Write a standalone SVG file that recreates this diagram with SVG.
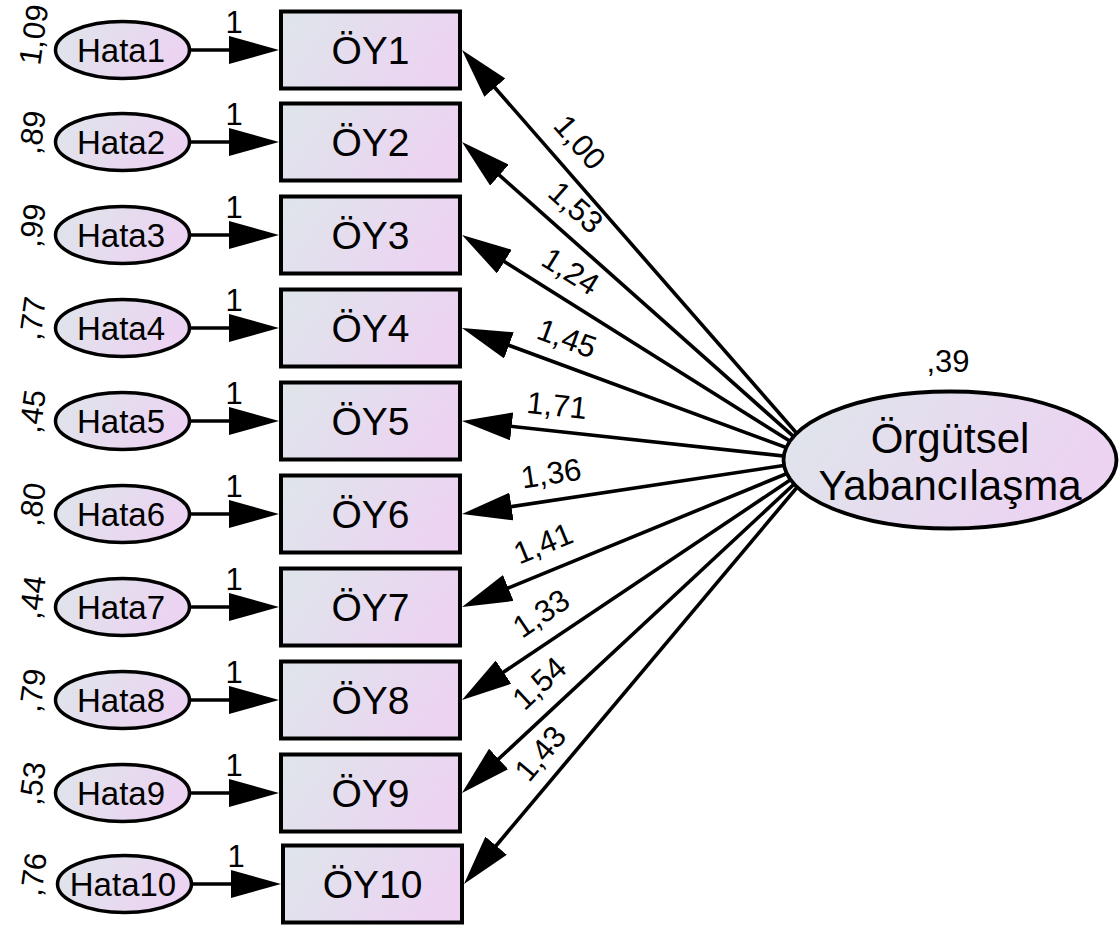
<svg xmlns="http://www.w3.org/2000/svg" width="1120" height="926" viewBox="0 0 1120 926">
  <defs>
    <linearGradient id="fillGrad" x1="0" y1="0" x2="1" y2="0.3">
      <stop offset="0" stop-color="#dee6ea"/>
      <stop offset="1" stop-color="#ecd3f2"/>
    </linearGradient>
    <marker id="head" markerUnits="userSpaceOnUse" viewBox="0 -14 50 28" refX="40" refY="0" markerWidth="50" markerHeight="28" orient="auto">
      <path d="M0,-14 L50,0 L0,14 Z" fill="#000"/>
    </marker>
    <style>
      .box { fill: url(#fillGrad); stroke: #000; stroke-width: 4; }
      .err { fill: url(#fillGrad); stroke: #000; stroke-width: 3.5; }
      .lat { fill: url(#fillGrad); stroke: #000; stroke-width: 3.8; }
      .path { stroke: #000; stroke-width: 3.6; fill: none; marker-end: url(#head); }
      text { font-family: "Liberation Sans", Arial, sans-serif; fill: #000; }
      .obs { font-size: 39px; text-anchor: middle; }
      .errt { font-size: 33px; text-anchor: middle; }
      .latt { font-size: 42px; text-anchor: middle; }
      .num { font-size: 31px; text-anchor: middle; }
      .var { font-size: 31px; text-anchor: start; }
    </style>
  </defs>

  <rect width="1120" height="926" fill="#fff"/>

  <!-- connectors: error terms to indicators, factor loadings -->
  <g id="connectors">
    <line class="path" x1="189" y1="50" x2="269" y2="50"/>
    <line class="path" x1="189" y1="142" x2="269" y2="142"/>
    <line class="path" x1="189" y1="235" x2="269" y2="235"/>
    <line class="path" x1="189" y1="328" x2="269" y2="328"/>
    <line class="path" x1="189" y1="421" x2="269" y2="421"/>
    <line class="path" x1="189" y1="514" x2="269" y2="514"/>
    <line class="path" x1="189" y1="607" x2="269" y2="607"/>
    <line class="path" x1="189" y1="700" x2="269" y2="700"/>
    <line class="path" x1="189" y1="793" x2="269" y2="793"/>
    <line class="path" x1="191" y1="884" x2="271" y2="884"/>

    <line class="path" x1="820" y1="460" x2="468.6" y2="57.5"/>
    <line class="path" x1="820" y1="460" x2="469.5" y2="148.6"/>
    <line class="path" x1="820" y1="460" x2="470.5" y2="240.3"/>
    <line class="path" x1="820" y1="460" x2="471.4" y2="331.5"/>
    <line class="path" x1="820" y1="460" x2="471.9" y2="422.1"/>
    <line class="path" x1="820" y1="460" x2="471.9" y2="512.5"/>
    <line class="path" x1="820" y1="460" x2="471.3" y2="603.2"/>
    <line class="path" x1="820" y1="460" x2="470.3" y2="694.4"/>
    <line class="path" x1="820" y1="460" x2="469.3" y2="786.2"/>
    <line class="path" x1="820" y1="460" x2="470.4" y2="876.3"/>

    <text class="num" x="234" y="33">1</text>
    <text class="num" x="234" y="125">1</text>
    <text class="num" x="234" y="218">1</text>
    <text class="num" x="234" y="311">1</text>
    <text class="num" x="234" y="404">1</text>
    <text class="num" x="234" y="497">1</text>
    <text class="num" x="234" y="590">1</text>
    <text class="num" x="234" y="683">1</text>
    <text class="num" x="234" y="776">1</text>
    <text class="num" x="236" y="867">1</text>

    <text class="num" transform="translate(580,142) rotate(48.9)" y="11">1,00</text>
    <text class="num" transform="translate(576,207) rotate(41.6)" y="11">1,53</text>
    <text class="num" transform="translate(571,271) rotate(32.1)" y="11">1,24</text>
    <text class="num" transform="translate(567,338) rotate(20.2)" y="11">1,45</text>
    <text class="num" transform="translate(557,405) rotate(6.2)" y="11">1,71</text>
    <text class="num" transform="translate(551,473) rotate(-8.6)" y="11">1,36</text>
    <text class="num" transform="translate(543,543) rotate(-22.3)" y="11">1,41</text>
    <text class="num" transform="translate(541,613) rotate(-33.8)" y="11">1,33</text>
    <text class="num" transform="translate(539,683) rotate(-42.9)" y="11">1,54</text>
    <text class="num" transform="translate(540,753) rotate(-50)" y="11">1,43</text>
  </g>

  <!-- error terms -->
  <g id="hata1"><ellipse class="err" cx="122.5" cy="50" rx="67" ry="28.5"/><text class="errt" x="121" y="62">Hata1</text><text class="var" transform="translate(40,66) rotate(-82)">1,09</text></g>
  <g id="hata2"><ellipse class="err" cx="122.5" cy="142" rx="67" ry="28.5"/><text class="errt" x="121" y="154">Hata2</text><text class="var" transform="translate(40,155) rotate(-82)">,89</text></g>
  <g id="hata3"><ellipse class="err" cx="122.5" cy="235" rx="67" ry="28.5"/><text class="errt" x="121" y="247">Hata3</text><text class="var" transform="translate(40,248) rotate(-82)">,99</text></g>
  <g id="hata4"><ellipse class="err" cx="122.5" cy="328" rx="67" ry="28.5"/><text class="errt" x="121" y="340">Hata4</text><text class="var" transform="translate(40,341) rotate(-82)">,77</text></g>
  <g id="hata5"><ellipse class="err" cx="122.5" cy="421" rx="67" ry="28.5"/><text class="errt" x="121" y="433">Hata5</text><text class="var" transform="translate(40,434) rotate(-82)">,45</text></g>
  <g id="hata6"><ellipse class="err" cx="122.5" cy="514" rx="67" ry="28.5"/><text class="errt" x="121" y="526">Hata6</text><text class="var" transform="translate(40,527) rotate(-82)">,80</text></g>
  <g id="hata7"><ellipse class="err" cx="122.5" cy="607" rx="67" ry="28.5"/><text class="errt" x="121" y="619">Hata7</text><text class="var" transform="translate(40,620) rotate(-82)">,44</text></g>
  <g id="hata8"><ellipse class="err" cx="122.5" cy="700" rx="67" ry="28.5"/><text class="errt" x="121" y="712">Hata8</text><text class="var" transform="translate(40,713) rotate(-82)">,79</text></g>
  <g id="hata9"><ellipse class="err" cx="122.5" cy="793" rx="67" ry="28.5"/><text class="errt" x="121" y="805">Hata9</text><text class="var" transform="translate(40,806) rotate(-82)">,53</text></g>
  <g id="hata10"><ellipse class="err" cx="124.5" cy="884" rx="67" ry="28.5"/><text class="errt" x="123" y="896">Hata10</text><text class="var" transform="translate(41,897) rotate(-82)">,76</text></g>

  <!-- observed indicators -->
  <g id="oy1"><rect class="box" x="281" y="11.5" width="179" height="77"/><text class="obs" x="370.5" y="64">ÖY1</text></g>
  <g id="oy2"><rect class="box" x="281" y="103.5" width="179" height="77"/><text class="obs" x="370.5" y="156">ÖY2</text></g>
  <g id="oy3"><rect class="box" x="281" y="196.5" width="179" height="77"/><text class="obs" x="370.5" y="249">ÖY3</text></g>
  <g id="oy4"><rect class="box" x="281" y="289.5" width="179" height="77"/><text class="obs" x="370.5" y="342">ÖY4</text></g>
  <g id="oy5"><rect class="box" x="281" y="382.5" width="179" height="77"/><text class="obs" x="370.5" y="435">ÖY5</text></g>
  <g id="oy6"><rect class="box" x="281" y="475.5" width="179" height="77"/><text class="obs" x="370.5" y="528">ÖY6</text></g>
  <g id="oy7"><rect class="box" x="281" y="568.5" width="179" height="77"/><text class="obs" x="370.5" y="621">ÖY7</text></g>
  <g id="oy8"><rect class="box" x="281" y="661.5" width="179" height="77"/><text class="obs" x="370.5" y="714">ÖY8</text></g>
  <g id="oy9"><rect class="box" x="281" y="754.5" width="179" height="77"/><text class="obs" x="370.5" y="807">ÖY9</text></g>
  <g id="oy10"><rect class="box" x="283" y="845.5" width="179" height="77"/><text class="obs" x="372.5" y="898">ÖY10</text></g>

  <!-- latent factor -->
  <g id="orgutsel-yabancilasma">
    <ellipse class="lat" cx="950" cy="460" rx="166.5" ry="68.5"/>
    <text class="latt" x="950" y="453">Örgütsel</text>
    <text class="latt" x="950" y="500">Yabancılaşma</text>
    <text class="num" x="948" y="372">,39</text>
  </g>
</svg>
